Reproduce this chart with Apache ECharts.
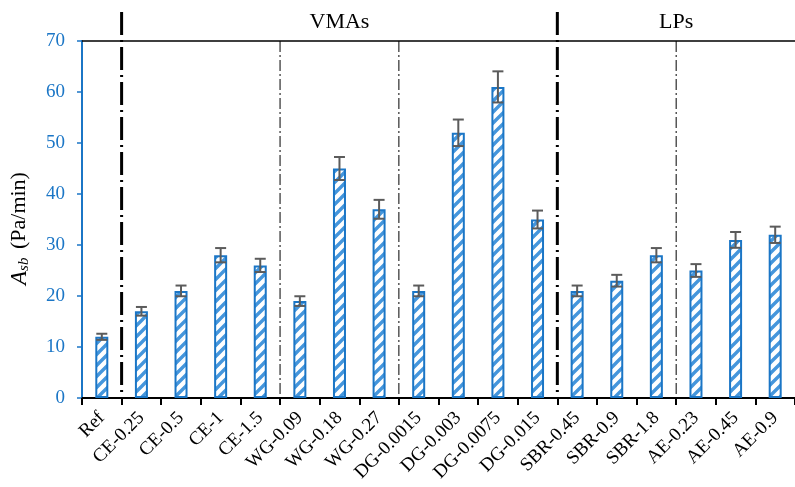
<!DOCTYPE html>
<html>
<head>
<meta charset="utf-8">
<script src="https://cdn.jsdelivr.net/npm/echarts@6/dist/echarts.min.js"></script>
<style>
  html, body { margin: 0; padding: 0; background: #ffffff; }
  #chart { width: 795px; height: 487px; }
</style>
</head>
<body>
<div id="chart"></div>
<script>
// Modifier dosages and measured A_sb values
const categories = ['Ref', 'CE-0.25', 'CE-0.5', 'CE-1', 'CE-1.5', 'WG-0.09', 'WG-0.18', 'WG-0.27',
  'DG-0.0015', 'DG-0.003', 'DG-0.0075', 'DG-0.015', 'SBR-0.45', 'SBR-0.9', 'SBR-1.8',
  'AE-0.23', 'AE-0.45', 'AE-0.9'];
const asbValues = [12, 17, 21, 28, 26, 19, 45, 37, 21, 52, 61, 35, 21, 23, 28, 25, 31, 32];
const asbErrors = [0.6, 0.85, 1.05, 1.4, 1.3, 0.95, 2.25, 1.85, 1.05, 2.6, 3.05, 1.75, 1.05, 1.15, 1.4, 1.25, 1.55, 1.6];
const yMin = 0, yMax = 70, yStep = 10;

// Group separators (placed before the named category) and group headings
const separators = [
  { before: 'CE-0.25', major: 1 },
  { before: 'WG-0.09', major: 0 },
  { before: 'DG-0.0015', major: 0 },
  { before: 'SBR-0.45', major: 1 },
  { before: 'AE-0.23', major: 0 }
];
const groups = [
  { name: 'VMAs', from: 'CE-0.25', to: 'DG-0.015' },
  { name: 'LPs', from: 'SBR-0.45', to: 'AE-0.9' }
];

const FONT = 'Liberation Serif';
const BLUE = '#1b76c6';

// Diagonal hatch fill for the bars
function hatchPattern() {
  const c = document.createElement('canvas');
  const s = 11;
  c.width = s; c.height = s;
  const ctx = c.getContext('2d');
  ctx.fillStyle = '#ffffff';
  ctx.fillRect(0, 0, s, s);
  ctx.strokeStyle = '#4596dc';
  ctx.lineWidth = 3.4;
  ctx.beginPath();
  ctx.moveTo(-s, s); ctx.lineTo(s, -s);
  ctx.moveTo(0, 2 * s); ctx.lineTo(2 * s, 0);
  ctx.moveTo(-s, 2 * s); ctx.lineTo(2 * s, -s);
  ctx.stroke();
  return c;
}

const chart = echarts.init(document.getElementById('chart'), null, { renderer: 'canvas' });

const barData = asbValues.map((v, i) => [i, v]);
const errData = asbValues.map((v, i) => [i, v, asbErrors[i]]);
const sepData = separators.map(s => [categories.indexOf(s.before), s.major]);
const groupData = groups.map(g => [categories.indexOf(g.from), categories.indexOf(g.to), g.name]);

chart.setOption({
  animation: false,
  backgroundColor: '#ffffff',
  textStyle: { fontFamily: FONT },
  grid: { left: 81, top: 41, bottom: 89, right: -6, containLabel: false },
  xAxis: [{
    type: 'category',
    data: categories,
    position: 'bottom',
    axisLine: { lineStyle: { color: '#000', width: 2 } },
    axisTick: { show: true, length: 7, lineStyle: { color: '#000', width: 2 } },
    axisLabel: {
      interval: 0, rotate: 45, margin: 17,
      fontFamily: FONT, fontSize: 19, color: '#000'
    },
    splitLine: { show: false }
  }, {
    type: 'category',
    data: categories,
    position: 'top',
    axisLine: { lineStyle: { color: '#000', width: 1.5 } },
    axisTick: { show: false },
    axisLabel: { show: false }
  }],
  yAxis: {
    type: 'value',
    min: yMin, max: yMax, interval: yStep,
    axisLine: { show: true, lineStyle: { color: BLUE, width: 2 } },
    axisTick: { show: true, length: 5, lineStyle: { color: BLUE, width: 1.5 } },
    axisLabel: { fontFamily: FONT, fontSize: 19, color: BLUE, margin: 17 },
    splitLine: { show: false },
    name: '{i|A}{s|sb} (Pa/min)',
    nameLocation: 'middle',
    nameGap: 50,
    nameRotate: 90,
    nameTextStyle: {
      fontFamily: FONT, fontSize: 22, color: '#000',
      padding: [0, 18, 0, 0],
      rich: {
        i: { fontFamily: FONT, fontSize: 23, fontStyle: 'italic', color: '#000' },
        s: { fontFamily: FONT, fontSize: 15, fontStyle: 'italic', color: '#000', padding: [10, 3, 0, 0] }
      }
    }
  },
  series: [{
    type: 'bar',
    data: barData,
    barWidth: 13,
    itemStyle: {
      color: { image: hatchPattern(), repeat: 'repeat' },
      borderColor: BLUE,
      borderWidth: 2
    },
    z: 2
  }, {
    // Error bars
    type: 'custom',
    data: errData,
    z: 5,
    renderItem: function (params, api) {
      const i = api.value(0), v = api.value(1), e = api.value(2);
      const hi = api.coord([i, v + e]);
      const lo = api.coord([i, v - e]);
      const cap = 5.5;
      const st = { stroke: '#5b5b5b', lineWidth: 2 };
      return {
        type: 'group',
        children: [
          { type: 'line', shape: { x1: hi[0], y1: hi[1], x2: lo[0], y2: lo[1] }, style: st },
          { type: 'line', shape: { x1: hi[0] - cap, y1: hi[1], x2: hi[0] + cap, y2: hi[1] }, style: st },
          { type: 'line', shape: { x1: lo[0] - cap, y1: lo[1], x2: lo[0] + cap, y2: lo[1] }, style: st }
        ]
      };
    }
  }, {
    // Dash-dot group separators
    type: 'custom',
    data: sepData,
    z: 4,
    clip: false,
    renderItem: function (params, api) {
      const i = api.value(0), major = api.value(1);
      const half = api.size([1, 0])[0] / 2;
      const base = api.coord([i, yMin]);
      const x = base[0] - half;
      const top = major ? params.coordSys.y - 29 : params.coordSys.y;
      return {
        type: 'line',
        shape: { x1: x, y1: top, x2: x, y2: base[1] },
        style: major
          ? { stroke: '#000', lineWidth: 3, lineDash: [23, 5, 2, 5] }
          : { stroke: '#000', lineWidth: 1, lineDash: [11, 3, 2, 3] }
      };
    }
  }, {
    // Group headings above the plot
    type: 'custom',
    data: groupData,
    z: 4,
    clip: false,
    renderItem: function (params, api) {
      const a = api.value(0), b = api.value(1);
      const half = api.size([1, 0])[0] / 2;
      const x1 = api.coord([a, yMin])[0] - half;
      const x2 = api.coord([b, yMin])[0] + half;
      return {
        type: 'text',
        style: {
          x: (x1 + x2) / 2,
          y: params.coordSys.y - 19,
          text: groupData[params.dataIndex][2],
          fontFamily: FONT,
          fontSize: 22,
          fill: '#000',
          align: 'center',
          verticalAlign: 'middle'
        }
      };
    }
  }]
});
</script>
</body>
</html>
